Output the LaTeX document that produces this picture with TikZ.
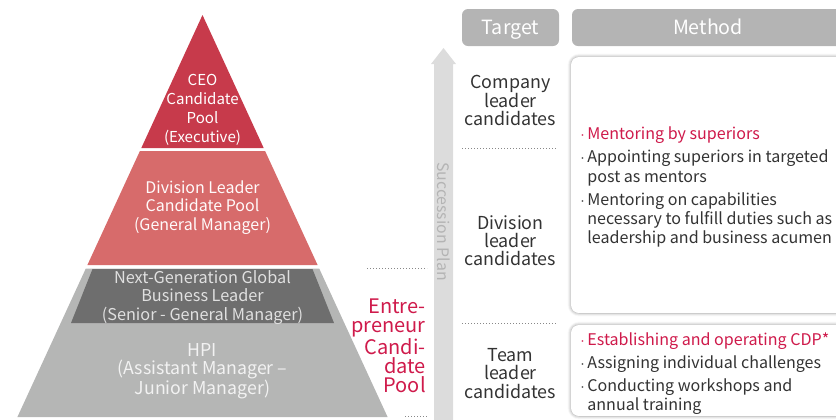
\documentclass[tikz,border=0pt]{standalone}
\usepackage{fontspec}
\setmainfont{Noto Sans CJK KR}
\usetikzlibrary{shadows.blur}
\definecolor{ceored}{HTML}{C73A4B}
\definecolor{divred}{HTML}{D76B6B}
\definecolor{ngldark}{HTML}{6E6E6E}
\definecolor{hpigray}{HTML}{B5B6B5}
\definecolor{hdrgray}{HTML}{B4B4B4}
\definecolor{arrowgray}{HTML}{DCDCDC}
\definecolor{txtdark}{HTML}{333333}
\definecolor{accent}{HTML}{CF1A4B}
\definecolor{dotgray}{HTML}{888888}
\tikzset{
  pyrtext/.style={align=center, inner sep=0pt},
  tgttext/.style={align=center, inner sep=0pt, text=txtdark, font=\fontsize{13.4}{13.6}\selectfont},
  mline/.style={anchor=base west, inner sep=0pt, text=txtdark, font=\fontsize{12.05}{14}\selectfont},
  hdr/.style={fill=hdrgray, rounded corners=4.5pt},
  hdrtext/.style={anchor=base, text=white, inner sep=0pt, font=\fontsize{14.7}{16}\selectfont},
  mbox/.style={fill=white, rounded corners=6pt, blur shadow={shadow xshift=0pt, shadow yshift=0pt, shadow blur radius=2.5pt, shadow opacity=45}},
  dotline/.style={draw=dotgray, line width=0.6pt, dash pattern=on 0.6pt off 1.65pt}
}
\newcommand{\mdot}{$\cdot$\,}
\newcommand{\mind}{\phantom{$\cdot$\,}}
\begin{document}
\begin{tikzpicture}[x=0.75pt, y=-0.75pt]
\useasboundingbox (0,0) rectangle (836,419);
\clip (0,0) rectangle (836,419);
% pyramid
\fill[ceored] (202.5,15) -- (263.7,148) -- (141.3,148) -- cycle;
\fill[divred] (139.9,151) -- (265.1,151) -- (317.6,265) -- (87.4,265) -- cycle;
\fill[hpigray] (85.8,268.5) -- (319.2,268.5) -- (387.6,417) -- (17.4,417) -- cycle;
\fill[ngldark] (92.5,269) -- (312.5,269) -- (334,323) -- (71,323) -- cycle;
\node[pyrtext, text=white, font=\fontsize{11.3}{14.2}\selectfont] (ceo) at (202.5,109.5) {CEO\\Candidate\\Pool\\(Executive)};
\node[pyrtext, text=white!92!pink, font=\fontsize{12}{13.9}\selectfont] (div) at (202.5,207.5) {Division Leader\\Candidate Pool\\(General Manager)};
\node[pyrtext, text=white!88!black, font=\fontsize{12.2}{13.9}\selectfont] (ngl) at (202.5,297.5) {Next-Generation Global\\Business Leader\\(Senior - General Manager)};
\node[pyrtext, text=white!95!black, font=\fontsize{13.3}{13.2}\selectfont] (hpi) at (202.5,371.5) {HPI\\(Assistant Manager --\\Junior Manager)};
% entrepreneur
\node[align=right, inner sep=0pt, text=accent, anchor=east, font=\fontsize{15}{14.3}\selectfont] (ent) at (426,345.5) {Entre-\\preneur\\Candi-\\date\\Pool};
% dotted lines near pyramid
\coordinate (d1a) at (367,268); \coordinate (d1b) at (427,268);
\coordinate (d2a) at (405,416); \coordinate (d2b) at (427,416);
\draw[dotline] (d1a) -- (d1b);
\draw[dotline] (d2a) -- (d2b);
% succession arrow
\fill[arrowgray] (443.5,48) -- (456,64) -- (453,64) -- (453,425) -- (434,425) -- (434,64) -- (431,64) -- cycle;
\node[rotate=-90, inner sep=0pt, text=hdrgray, font=\fontsize{11.9}{13}\selectfont] (sp) at (443.5,221.5) {Succession Plan};
% headers
\fill[hdr] (462,9) rectangle (559,46);
\node[hdrtext] (tgt) at (510.5,34.5) {Target};
\fill[hdr] (572,9) rectangle (860,46);
\node[hdrtext] (mth) at (708,34.5) {Method};
% targets
\node[tgttext] (t1) at (510.5,100.5) {Company\\leader\\candidates};
\node[tgttext] (t2) at (510.5,241) {Division\\leader\\candidates};
\node[tgttext] (t3) at (510.5,373.5) {Team\\leader\\candidates};
\coordinate (d3a) at (462,148); \coordinate (d3b) at (557,148);
\coordinate (d4a) at (462,323); \coordinate (d4b) at (557,323);
\draw[dotline] (d3a) -- (d3b);
\draw[dotline] (d4a) -- (d4b);
% method boxes
\path[mbox] (571,57) rectangle (870,313);
\path[mbox] (571,325) rectangle (870,416);
\node[mline, text=accent] (m1) at (580,139) {\mdot Mentoring by superiors};
\node[mline] (m2) at (580,162) {\mdot Appointing superiors in targeted};
\node[mline] (m3) at (580,182) {\mind post as mentors};
\node[mline] (m4) at (580,205) {\mdot Mentoring on capabilities};
\node[mline] (m5) at (580,224) {\mind necessary to fulfill duties such as};
\node[mline] (m6) at (580,243) {\mind leadership and business acumen};
\node[mline, text=accent] (m7) at (580,345) {\mdot Establishing and operating CDP*};
\node[mline] (m8) at (580,368) {\mdot Assigning individual challenges};
\node[mline] (m9) at (580,391) {\mdot Conducting workshops and};
\node[mline] (m10) at (580,410) {\mind annual training};
\end{tikzpicture}
\end{document}
